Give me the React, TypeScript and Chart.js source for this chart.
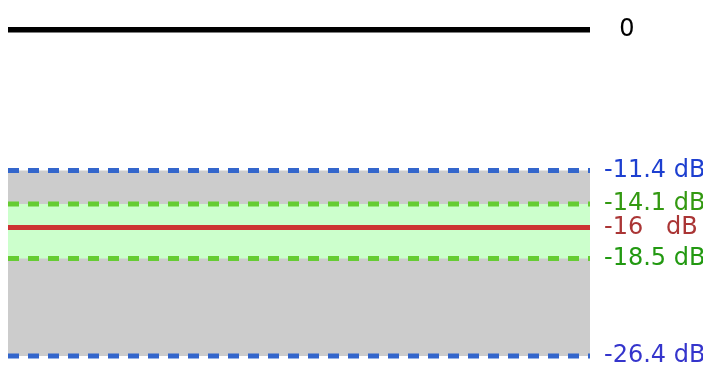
import React, { useEffect, useRef } from "react";
import { Chart, registerables } from "chart.js";

Chart.register(...registerables);

// Level values (dB) and their labels
const levelValues = [0, -11.4, -14.1, -16, -18.5, -26.4];
const levelLabels = ["  0", "-11.4 dB", "-14.1 dB", "-16   dB", "-18.5 dB", "-26.4 dB"];
const labelColors = ["#000000", "#1d3fd0", "#339911", "#aa3535", "#229911", "#3535cc"];
// horizontal span of each level line
const spanX = [0, 1];

const line = (v: number) => spanX.map((x) => ({ x, y: v }));

export default function App() {
  const ref = useRef<HTMLCanvasElement | null>(null);

  useEffect(() => {
    if (!ref.current) return;
    const [zero, blueTop, greenTop, red, greenBottom, blueBottom] = levelValues;
    const common = { pointRadius: 0, tension: 0, borderCapStyle: "butt" as const };
    const chart = new Chart(ref.current, {
      type: "line",
      data: {
        datasets: [
          { ...common, data: line(zero), borderColor: "#000000", borderWidth: 5.5, fill: false },
          { ...common, data: line(red), borderColor: "#cc3333", borderWidth: 5, fill: false },
          {
            ...common,
            data: line(greenTop),
            borderColor: "#66cc33",
            borderWidth: 5,
            borderDash: [11, 9],
            fill: { target: 3 },
            backgroundColor: "#ccffcc",
          },
          { ...common, data: line(greenBottom), borderColor: "#66cc33", borderWidth: 5, borderDash: [11, 9], fill: false },
          {
            ...common,
            data: line(blueTop),
            borderColor: "#3366cc",
            borderWidth: 5,
            borderDash: [11, 9],
            fill: { target: 5 },
            backgroundColor: "#cccccc",
          },
          { ...common, data: line(blueBottom), borderColor: "#3366cc", borderWidth: 5, borderDash: [11, 9], fill: false },
        ],
      },
      options: {
        animation: false,
        responsive: true,
        maintainAspectRatio: false,
        layout: { padding: 0 },
        plugins: {
          legend: { display: false },
          tooltip: { enabled: false },
          filler: { drawTime: "beforeDatasetsDraw" },
        } as any,
        scales: {
          x: { type: "linear", min: spanX[0], max: spanX[1], display: false },
          y: {
            type: "linear",
            position: "right",
            min: -26.88,
            max: 1.75,
            grid: { display: false },
            border: { display: false },
            afterBuildTicks: (scale: any) => {
              scale.ticks = levelValues.map((v) => ({ value: v }));
            },
            afterFit: (scale: any) => {
              scale.width = 121;
              scale.paddingTop = 0;
              scale.paddingBottom = 0;
            },
            ticks: {
              padding: 6,
              autoSkip: false,
              font: { family: "'DejaVu Sans', sans-serif", size: 24 },
              color: (ctx: any) => labelColors[ctx.index] ?? "#000",
              callback: (_v: any, i: number) => levelLabels[i],
            },
          },
        },
      },
    });
    return () => chart.destroy();
  }, []);

  return (
    <div style={{ position: "relative", height: 354, width: 703 }}>
      <canvas ref={ref} />
    </div>
  );
}
